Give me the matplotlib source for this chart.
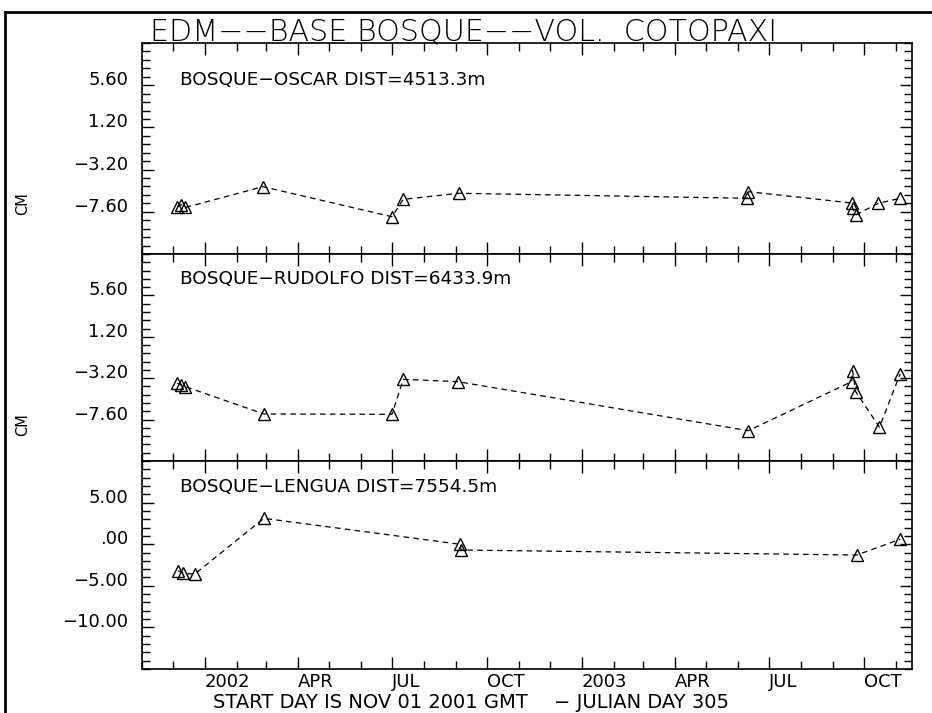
import numpy as np
import matplotlib
matplotlib.use('Agg')
import matplotlib.pyplot as plt
import matplotlib.dates as mdates
from matplotlib.lines import Line2D
from matplotlib.ticker import FixedLocator, FuncFormatter
from datetime import datetime

plt.rcParams['font.family'] = ['DejaVu Sans']

# baseline change per station pair (cm)
oscar_dates = ['2001-12-05', '2001-12-09', '2001-12-13', '2002-02-26', '2002-07-01',
               '2002-07-12', '2002-09-04', '2003-06-10', '2003-06-11', '2003-09-19',
               '2003-09-20', '2003-09-23', '2003-10-15', '2003-11-05']
oscar_cm = [-7.05, -6.85, -7.15, -4.98, -8.11, -6.30, -5.67, -6.19, -5.50, -6.68,
            -7.20, -7.93, -6.71, -6.19]

rudolfo_dates = ['2001-12-05', '2001-12-09', '2001-12-13', '2002-02-27', '2002-07-01',
                 '2002-07-12', '2002-09-03', '2003-06-11', '2003-09-19', '2003-09-20',
                 '2003-09-23', '2003-10-16', '2003-11-05']
rudolfo_cm = [-3.74, -3.92, -4.10, -7.00, -7.04, -3.32, -3.57, -8.78, -3.57, -2.40,
              -4.63, -8.40, -2.75]

lengua_dates = ['2001-12-06', '2001-12-11', '2001-12-22', '2002-02-27', '2002-09-05',
                '2002-09-06', '2003-09-24', '2003-11-05']
lengua_cm = [-3.2, -3.5, -3.6, 3.11, -0.01, -0.70, -1.30, 0.59]

panel_names = ['BOSQUE\u2212OSCAR DIST=4513.3m',
               'BOSQUE\u2212RUDOLFO DIST=6433.9m',
               'BOSQUE\u2212LENGUA DIST=7554.5m']

month_ticks = ['2002-01-01', '2002-04-01', '2002-07-01', '2002-10-01',
               '2003-01-01', '2003-04-01', '2003-07-01', '2003-10-01']
month_labels = ['2002', 'APR', 'JUL', 'OCT', '2003', 'APR', 'JUL', 'OCT']

W, H = 932, 713
fig = plt.figure(figsize=(W / 100, H / 100), dpi=100)

def fx(px):
    return px / W

def fy(py):
    return 1 - py / H

def fmt_val(v, pos):
    s = f'{v:.2f}'
    if s.startswith('0.'):
        s = s[1:]
    return s.replace('-', '\u2212')

# panel pixel extents (top, bottom) and y ranges
panels = [(43, 254, -12.0, 10.0), (254, 461, -12.0, 10.0), (461, 669, -15.0, 10.0)]
series = [(oscar_dates, oscar_cm), (rudolfo_dates, rudolfo_cm), (lengua_dates, lengua_cm)]
label_base = [85, 284, 492]

x0 = datetime(2001, 11, 1)
x1 = datetime(2003, 11, 16, 12)

for i, ((top, bot, lo, hi), (d, v)) in enumerate(zip(panels, series)):
    ax = fig.add_axes([fx(142), fy(bot), fx(912) - fx(142), fy(top) - fy(bot)])
    dd = [datetime.strptime(s, '%Y-%m-%d') for s in d]
    ax.plot(dd, v, color='black', lw=0.9, dashes=(4.5, 3.4),
            marker='^', ms=9, mfc='none', mec='black', mew=1.0)
    ax.set_xlim(x0, x1)
    ax.set_ylim(lo, hi)
    majors = np.linspace(lo, hi, 6)
    ax.yaxis.set_major_locator(FixedLocator(majors[1:-1]))
    ax.yaxis.set_minor_locator(FixedLocator(np.linspace(lo, hi, 26)))
    ax.yaxis.set_major_formatter(FuncFormatter(fmt_val))
    for lab in ax.get_yticklabels():
        lab.set_va('baseline')
    ax.set_xticks([datetime.strptime(s, '%Y-%m-%d') for s in month_ticks])
    ax.xaxis.set_minor_locator(mdates.MonthLocator())
    if i == 2:
        ax.set_xticklabels(month_labels, ha='left')
    else:
        ax.set_xticklabels([])
    ax.tick_params(which='both', direction='in', top=True, right=True, width=1.0)
    ax.tick_params(which='major', length=8.5, labelsize=13, pad=3)
    ax.tick_params(axis='y', which='major', pad=10)
    ax.tick_params(which='minor', length=5.5)
    for sp in ax.spines.values():
        sp.set_linewidth(1.2)
    fig.text(fx(180), fy(label_base[i]), panel_names[i], fontsize=13.3, va='baseline', ha='left')

fig.text(fx(22.5), fy(203.5), 'CM', rotation=90, fontsize=10.5, ha='center', va='center')
fig.text(fx(22.5), fy(425), 'CM', rotation=90, fontsize=10.5, ha='center', va='center')

fig.text(fx(150), fy(40), 'EDM\u2212\u2212BASE BOSQUE\u2212\u2212VOL.  COTOPAXI',
         fontsize=21.7, fontweight='light', ha='left', va='baseline')
fig.text(fx(213), fy(708), 'START DAY IS NOV 01 2001 GMT',
         fontsize=14, ha='left', va='baseline')
fig.text(fx(554), fy(708), '\u2212 JULIAN DAY 305',
         fontsize=14, ha='left', va='baseline')

# outer frame
fig.add_artist(Line2D([fx(5), fx(5)], [0, fy(12)], transform=fig.transFigure, color='black', lw=2))
fig.add_artist(Line2D([fx(5), 1], [fy(12), fy(12)], transform=fig.transFigure, color='black', lw=2))

fig.savefig('out.png', dpi=100)
